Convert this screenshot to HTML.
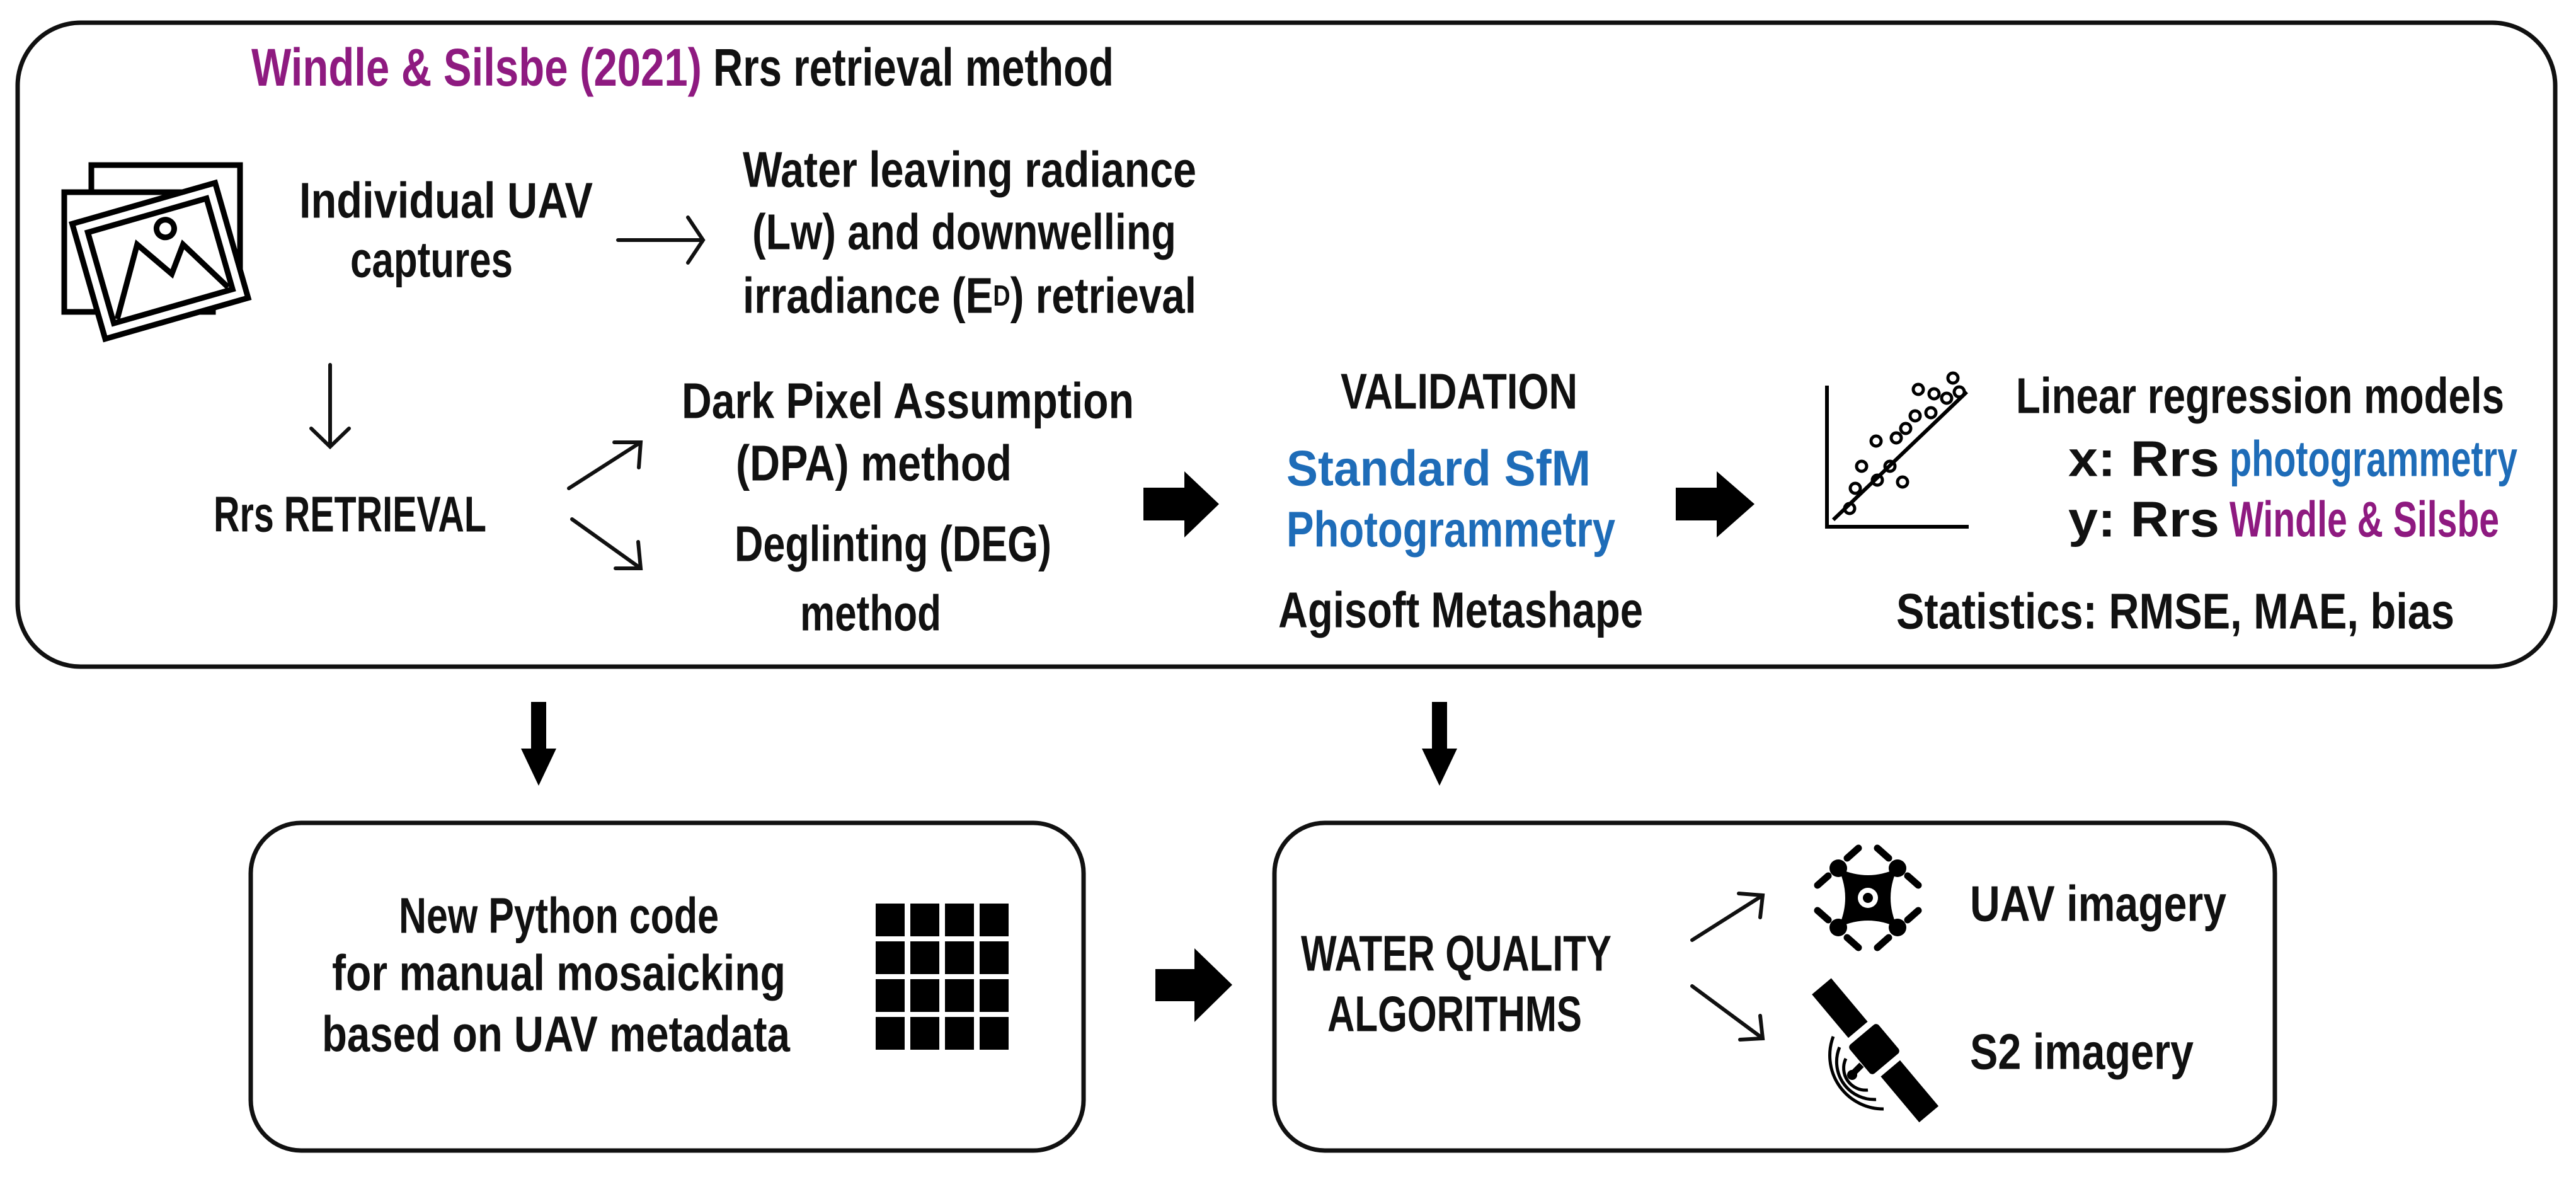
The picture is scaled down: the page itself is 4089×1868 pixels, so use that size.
<!DOCTYPE html>
<html><head><meta charset="utf-8"><style>
html,body{margin:0;padding:0;background:#fff;}
svg{display:block}
text{font-family:"Liberation Sans",sans-serif;font-weight:bold;fill:#111;dominant-baseline:central;}
.p{fill:#8E1A80}.b{fill:#1E6CB8}
</style></head><body>
<svg width="4089" height="1868" viewBox="0 0 4089 1868" xmlns="http://www.w3.org/2000/svg">
<g fill="none" stroke="#111" stroke-width="7">
<rect x="28" y="36" width="4028" height="1022" rx="100"/>
<rect x="398" y="1306" width="1322" height="520" rx="80"/>
<rect x="2023" y="1306" width="1588" height="520" rx="80"/>
</g>
<g font-size="80">
<text x="399" y="107" font-size="84" textLength="715" lengthAdjust="spacingAndGlyphs" class="p">Windle &amp; Silsbe (2021)</text>
<text x="1132" y="107" font-size="84" textLength="636" lengthAdjust="spacingAndGlyphs">Rrs retrieval method</text>
<text x="475" y="318" textLength="466" lengthAdjust="spacingAndGlyphs">Individual UAV</text>
<text x="556" y="412" textLength="258" lengthAdjust="spacingAndGlyphs">captures</text>
<text x="1179" y="269" textLength="720" lengthAdjust="spacingAndGlyphs">Water leaving radiance</text>
<text x="1194" y="368" textLength="673" lengthAdjust="spacingAndGlyphs">(Lw) and downwelling</text>
<text x="1179" y="469" textLength="720" lengthAdjust="spacingAndGlyphs">irradiance (E<tspan font-size="46">D</tspan>) retrieval</text>
<text x="1082" y="636" textLength="718" lengthAdjust="spacingAndGlyphs">Dark Pixel Assumption</text>
<text x="1168" y="735" textLength="438" lengthAdjust="spacingAndGlyphs">(DPA) method</text>
<text x="339" y="816" textLength="433" lengthAdjust="spacingAndGlyphs">Rrs RETRIEVAL</text>
<text x="1166" y="863" textLength="503" lengthAdjust="spacingAndGlyphs">Deglinting (DEG)</text>
<text x="1270" y="973" textLength="224" lengthAdjust="spacingAndGlyphs">method</text>
<text x="2128" y="621" textLength="376" lengthAdjust="spacingAndGlyphs">VALIDATION</text>
<text x="2042" y="743" textLength="483" lengthAdjust="spacingAndGlyphs" class="b">Standard SfM</text>
<text x="2042" y="840" textLength="522" lengthAdjust="spacingAndGlyphs" class="b">Photogrammetry</text>
<text x="2029" y="968" textLength="579" lengthAdjust="spacingAndGlyphs">Agisoft Metashape</text>
<text x="3200" y="628" textLength="775" lengthAdjust="spacingAndGlyphs">Linear regression models</text>
<text x="3283" y="728" textLength="240" lengthAdjust="spacingAndGlyphs">x: Rrs</text>
<text x="3539" y="728" textLength="457" lengthAdjust="spacingAndGlyphs" class="b">photogrammetry</text>
<text x="3283" y="824" textLength="240" lengthAdjust="spacingAndGlyphs">y: Rrs</text>
<text x="3539" y="824" textLength="428" lengthAdjust="spacingAndGlyphs" class="p">Windle &amp; Silsbe</text>
<text x="3010" y="970" textLength="886" lengthAdjust="spacingAndGlyphs">Statistics: RMSE, MAE, bias</text>
<text x="633" y="1453" textLength="508" lengthAdjust="spacingAndGlyphs">New Python code</text>
<text x="527" y="1544" textLength="720" lengthAdjust="spacingAndGlyphs">for manual mosaicking</text>
<text x="511" y="1641" textLength="743" lengthAdjust="spacingAndGlyphs">based on UAV metadata</text>
<text x="2065" y="1513" textLength="493" lengthAdjust="spacingAndGlyphs">WATER QUALITY</text>
<text x="2107" y="1609" textLength="404" lengthAdjust="spacingAndGlyphs">ALGORITHMS</text>
<text x="3127" y="1434" textLength="407" lengthAdjust="spacingAndGlyphs">UAV imagery</text>
<text x="3127" y="1669" textLength="355" lengthAdjust="spacingAndGlyphs">S2 imagery</text>
</g>
<g fill="none" stroke="#111" stroke-width="6" stroke-linecap="round">
<path d="M981 381H1114M1092 345L1116 381L1092 417"/>
<path d="M524 579V707M494 680L524 709L554 680"/>
<path d="M903 775L1017 702M975 702L1017 702L1014 742"/>
<path d="M908 824L1017 902M1013 860L1017 902L977 902"/>
<path d="M2686 1492L2798 1421M2760 1418L2798 1421L2794 1456"/>
<path d="M2686 1565L2798 1648M2794 1612L2798 1648L2762 1650"/>
</g>
<g fill="#000">
<path d="M1815 774H1880V748L1935 800L1880 853V826H1815Z"/>
<path d="M2660 774H2725V748L2785 800L2725 853V826H2660Z"/>
<path d="M1834 1538H1896V1505L1956 1563L1896 1622V1589H1834Z"/>
<path d="M843 1114H867V1188H883L855 1247L827 1188H843Z"/>
<path d="M2273 1114H2297V1188H2313L2285 1247L2257 1188H2273Z"/>
</g>
<g fill="#000">
<g id="row"><rect x="1390" y="1434" width="46" height="52"/><rect x="1445" y="1434" width="46" height="52"/><rect x="1500" y="1434" width="46" height="52"/><rect x="1555" y="1434" width="46" height="52"/></g>
<use href="#row" y="60"/><use href="#row" y="120"/><use href="#row" y="180"/>
</g>
<g fill="#fff" stroke="#000" stroke-width="9">
<rect x="145" y="262" width="236" height="190"/>
<rect x="102" y="305" width="236" height="190"/>
<g transform="rotate(-16 250 410)">
<rect x="135" y="320" width="236" height="190"/>
<rect x="155" y="340" width="196" height="150"/>
<path d="M162 485L225 380L265 440L295 400L345 485" fill="none"/>
<circle cx="275" cy="368" r="14"/>
</g>
</g>
<g fill="none" stroke="#000" stroke-width="6">
<path d="M2900 612V836H3125"/>
<path d="M2910 825L3122 622"/>
<g stroke-width="5">
<circle cx="2936" cy="807" r="8"/><circle cx="2945" cy="775" r="8"/><circle cx="2955" cy="740" r="8"/>
<circle cx="2980" cy="762" r="8"/><circle cx="2978" cy="700" r="8"/><circle cx="3000" cy="740" r="8"/>
<circle cx="3010" cy="695" r="8"/><circle cx="3025" cy="680" r="8"/><circle cx="3020" cy="765" r="8"/>
<circle cx="3040" cy="660" r="8"/><circle cx="3045" cy="618" r="8"/><circle cx="3065" cy="655" r="8"/>
<circle cx="3070" cy="625" r="8"/><circle cx="3090" cy="632" r="8"/><circle cx="3100" cy="600" r="8"/>
<circle cx="3110" cy="622" r="8"/>
</g>
</g>
<g fill="#000">
<path d="M2918 1378Q2965 1400 3012 1378Q2990 1425 3012 1472Q2965 1450 2918 1472Q2940 1425 2918 1378Z"/>
<circle cx="2965" cy="1425" r="16" fill="#fff"/><circle cx="2965" cy="1425" r="8"/>
<circle cx="2918" cy="1378" r="14"/><circle cx="3012" cy="1378" r="14"/><circle cx="2918" cy="1472" r="14"/><circle cx="3012" cy="1472" r="14"/>
<g stroke="#000" stroke-width="11" stroke-linecap="round">
<path d="M2932 1362L2950 1346M2902 1390L2885 1405M2998 1362L2980 1346M3028 1390L3045 1405M2932 1488L2950 1504M2902 1460L2885 1445M2998 1488L2980 1504M3028 1460L3045 1445"/>
</g>
</g>
<g fill="#000">
<g transform="rotate(50 2975 1665)">
<rect x="2945" y="1635" width="60" height="60" rx="6"/>
<rect x="2845" y="1645" width="90" height="40"/>
<rect x="3015" y="1645" width="95" height="40"/>
</g>
<path d="M2955 1690L2935 1710" stroke="#000" stroke-width="10"/>
<circle cx="2940" cy="1706" r="8"/>
<g fill="none" stroke="#000" stroke-width="5">
<path d="M2930 1680A35 35 0 0 0 2965 1730"/>
<path d="M2920 1662A60 60 0 0 0 2978 1745"/>
<path d="M2910 1645A85 85 0 0 0 2990 1760"/>
</g>
</g>
</svg>
</body></html>
